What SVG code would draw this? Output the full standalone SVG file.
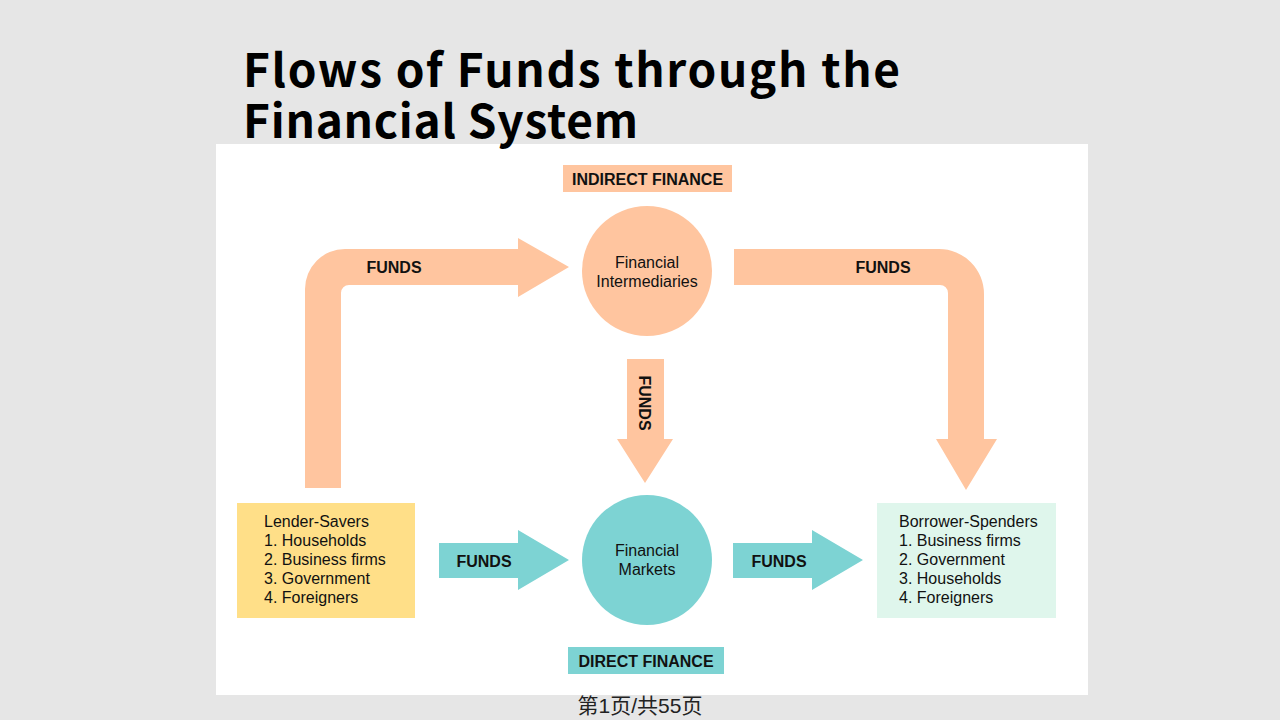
<svg xmlns="http://www.w3.org/2000/svg" width="1280" height="720" viewBox="0 0 1280 720">
<style>
.peach{fill:#ffc59f}
.teal{fill:#7dd3d3}
.lbl{font-family:"Liberation Sans",Arial,sans-serif;font-size:16px;fill:#111}
.bold{font-family:"Liberation Sans",Arial,sans-serif;font-size:16px;font-weight:bold;fill:#111}
.title{font-family:"Noto Sans CJK SC","Open Sans",sans-serif;font-weight:bold;font-size:46px;fill:#000}
</style>
<rect width="1280" height="720" fill="#e6e6e6"/>
<rect x="216" y="144" width="872" height="551" fill="#ffffff"/>
<g id="title">
<text class="title" x="243" y="87" textLength="657" lengthAdjust="spacing">Flows of Funds through the</text>
<text class="title" x="243" y="138" textLength="395" lengthAdjust="spacing">Financial System</text>
</g>
<g id="connectors">
<g id="arrow-lender-intermediaries">
<path class="peach" d="M305,488 L305,289 A40,40 0 0 1 345,249 L518,249 L518,238 L569,267 L518,297 L518,285 L349,285 A8,8 0 0 0 341,293 L341,488 Z"/>
<text class="bold" x="394" y="273" text-anchor="middle">FUNDS</text>
</g>
<g id="arrow-intermediaries-borrower">
<path class="peach" d="M734,249 L939,249 A45,45 0 0 1 984,294 L984,439 L997,439 L966,490 L936,439 L948,439 L948,293 A8,8 0 0 0 940,285 L734,285 Z"/>
<text class="bold" x="883" y="273" text-anchor="middle">FUNDS</text>
</g>
<g id="arrow-intermediaries-markets">
<path class="peach" d="M627,359 L664,359 L664,439 L673,439 L645,483 L617,439 L627,439 Z"/>
<text class="bold" x="0" y="0" text-anchor="middle" transform="translate(639,403) rotate(90)">FUNDS</text>
</g>
<g id="arrow-lender-markets">
<path class="teal" d="M439,543 L518,543 L518,530 L569,560 L518,590 L518,578 L439,578 Z"/>
<text class="bold" x="484" y="567" text-anchor="middle">FUNDS</text>
</g>
<g id="arrow-markets-borrower">
<path class="teal" d="M733,543 L812,543 L812,530 L863,560 L812,590 L812,578 L733,578 Z"/>
<text class="bold" x="779" y="567" text-anchor="middle">FUNDS</text>
</g>
</g>
<g id="indirect-finance">
<rect class="peach" x="563" y="165" width="169" height="27"/>
<text class="bold" x="647.5" y="184.5" text-anchor="middle">INDIRECT FINANCE</text>
</g>
<g id="financial-intermediaries">
<circle class="peach" cx="647" cy="271" r="65"/>
<text class="lbl" x="647" y="268" text-anchor="middle">Financial</text>
<text class="lbl" x="647" y="287" text-anchor="middle">Intermediaries</text>
</g>
<g id="financial-markets">
<circle class="teal" cx="647" cy="560" r="65"/>
<text class="lbl" x="647" y="556" text-anchor="middle">Financial</text>
<text class="lbl" x="647" y="575" text-anchor="middle">Markets</text>
</g>
<g id="direct-finance">
<rect class="teal" x="568" y="647" width="156" height="27"/>
<text class="bold" x="646" y="666.5" text-anchor="middle">DIRECT FINANCE</text>
</g>
<g id="lender-savers">
<rect x="237" y="503" width="178" height="115" fill="#ffdf88"/>
<text class="lbl" x="264" y="527">Lender-Savers</text>
<text class="lbl" x="264" y="546">1. Households</text>
<text class="lbl" x="264" y="565">2. Business firms</text>
<text class="lbl" x="264" y="584">3. Government</text>
<text class="lbl" x="264" y="603">4. Foreigners</text>
</g>
<g id="borrower-spenders">
<rect x="877" y="503" width="179" height="115" fill="#dff6ec"/>
<text class="lbl" x="899" y="527">Borrower-Spenders</text>
<text class="lbl" x="899" y="546">1. Business firms</text>
<text class="lbl" x="899" y="565">2. Government</text>
<text class="lbl" x="899" y="584">3. Households</text>
<text class="lbl" x="899" y="603">4. Foreigners</text>
</g>
<g id="footer">
<text x="640" y="713" text-anchor="middle" font-family="'Liberation Sans','Noto Sans CJK SC',sans-serif" font-size="21" fill="#222">第1页/共55页</text>
</g>
</svg>
